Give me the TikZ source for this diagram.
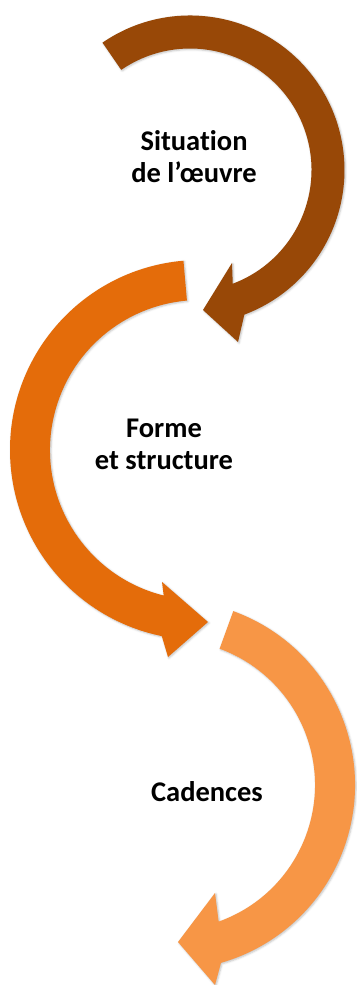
\documentclass[tikz,border=0pt]{standalone}
\usepackage{fontspec}
\setmainfont{Carlito}[Ligatures=NoCommon]
\usetikzlibrary{calc,shadows.blur}
\definecolor{darkbrown}{RGB}{152,72,7}
\definecolor{midorange}{RGB}{228,108,10}
\definecolor{lightorange}{RGB}{247,150,70}

\begin{document}
\begin{tikzpicture}[x=1pt,y=1pt,
  bigarrow/.style={fill=#1,blur shadow={shadow xshift=1pt,shadow yshift=-1pt,shadow blur radius=2pt,shadow opacity=25}},
  lbl/.style={align=center,font=\bfseries\fontsize{28.5}{32}\selectfont}]
\useasboundingbox (0,0) rectangle (356,985);

% centres of the three arcs
\coordinate (c1) at (190,815);
\coordinate (c2) at (200,535);
\coordinate (c3) at (170,200);

% first arrow, clockwise
\fill[bigarrow=darkbrown] ($(c1)+(124.5:154.5pt)$) arc[start angle=124.5,end angle=-69.4,radius=154.5pt]
  -- (238,643) -- (203,675) -- (232,722) -- ($(c1)+(-69.4:121.5pt)$)
  arc[start angle=-69.4,end angle=124.5,radius=121.5pt] -- cycle;

% second arrow, counterclockwise
\fill[bigarrow=midorange] ($(c2)+(95:190pt)$) arc[start angle=95,end angle=258.4,radius=190pt]
  -- (168,328) -- (208,363) -- (162,403) -- ($(c2)+(256:150pt)$)
  arc[start angle=256,end angle=95,radius=150pt] -- cycle;

% third arrow, clockwise
\fill[bigarrow=lightorange] ($(c3)+(70:185pt)$) arc[start angle=70,end angle=-74,radius=185pt]
  -- (215,0) -- (178,43) -- (215,92) -- ($(c3)+(-70.4:145pt)$)
  arc[start angle=-70.4,end angle=70,radius=145pt] -- cycle;

\node[lbl] (sit) at (194,828) {Situation\\de l’œuvre};
\node[lbl] (forme) at (164,541) {Forme\\et structure};
\node[lbl] (cad) at (207,193) {Cadences};

\end{tikzpicture}
\end{document}
